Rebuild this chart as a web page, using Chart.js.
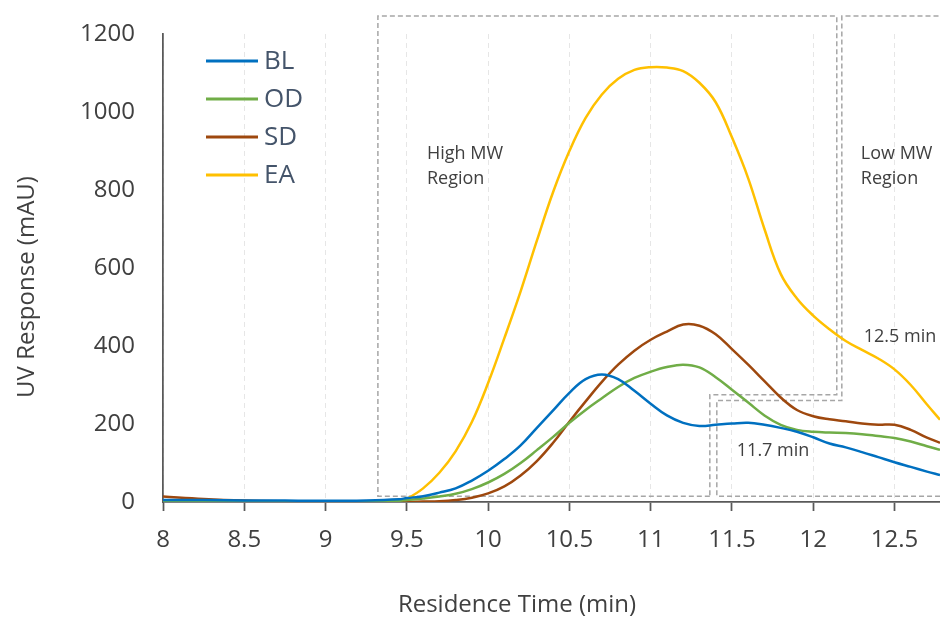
<!DOCTYPE html>
<html>
<head>
<meta charset="utf-8">
<script src="https://cdn.jsdelivr.net/npm/chart.js@4.4.1/dist/chart.umd.min.js"></script>
<style>
  html, body { margin: 0; padding: 0; background: #fff; }
  #wrap { width: 940px; height: 619px; }
</style>
</head>
<body>
<div id="wrap"><canvas id="chart" width="940" height="619"></canvas></div>
<script>
// residence time (min)
const timeMin = [8.0, 8.25, 8.5, 8.75, 9.0, 9.25, 9.45,
    9.5, 9.6, 9.7, 9.8, 9.9, 10.0, 10.1, 10.2, 10.3, 10.4,
    10.5, 10.6, 10.7, 10.8, 10.9, 11.0, 11.1, 11.2, 11.3, 11.4,
    11.5, 11.6, 11.7, 11.8, 11.9, 12.0, 12.1, 12.2, 12.3, 12.4,
    12.5, 12.6, 12.7, 12.78];

// UV response (mAU)
const blValues = [5, 5, 4, 4, 3, 4, 7,
    10, 15, 24, 35, 55, 80, 110, 145, 190, 235,
    280, 315, 327, 315, 285, 252, 222, 203, 195, 198,
    201, 203, 198, 190, 180, 166, 150, 140, 128, 115,
    102, 90, 78, 69];
const odValues = [1, 1, 1, 1, 1, 1, 3,
    5, 9, 14, 21, 33, 50, 72, 100, 133, 167,
    203, 236, 266, 295, 318, 334, 346, 352, 345, 320,
    288, 255, 222, 198, 185, 180, 178, 177, 174, 169,
    164, 155, 143, 134];
const sdValues = [14, 8, 4, 2, 1, 0, 0,
    0, 1, 2, 5, 11, 22, 40, 68, 105, 152,
    206, 258, 308, 352, 388, 416, 437, 455, 452, 430,
    392, 352, 310, 268, 236, 220, 212, 207, 201, 198,
    198, 185, 165, 152];
const eaValues = [null, null, null, null, null, null, 0,
    8, 35, 75, 130, 205, 305, 420, 540, 670, 795,
    900, 985, 1045, 1085, 1108, 1115, 1114, 1105, 1075, 1025,
    935, 830, 700, 585, 522, 478, 443, 413, 390, 368,
    340, 300, 250, 211];

const seriesNames = ['BL', 'OD', 'SD', 'EA'];
const seriesColors = ['#0070C0', '#70AD47', '#9E480E', '#FFC000'];
const seriesValues = [blValues, odValues, sdValues, eaValues];

const xTicks = [8, 8.5, 9, 9.5, 10, 10.5, 11, 11.5, 12, 12.5];
const yTicks = [0, 200, 400, 600, 800, 1000, 1200];

// dashed region outlines, in (min, mAU)
const highMwBox = [[11.364, 15], [9.322, 15], [9.322, 1246], [12.145, 1246], [12.145, 275], [11.364, 275], [11.364, 15]];
const lowMwBox = [[12.82, 1246], [12.176, 1246], [12.176, 260], [11.407, 260], [11.407, 15], [12.82, 15]];
const notes = [
    { lines: ['High MW', 'Region'], t: 9.624, v: 892 },
    { lines: ['Low MW', 'Region'], t: 12.293, v: 892 },
    { lines: ['12.5 min'], t: 12.311, v: 424 },
    { lines: ['11.7 min'], t: 11.53, v: 131 }
];

const FONT = '"Open Sans", "DejaVu Sans", sans-serif';
const TEXT = '#404040';
const AXIS = '#595959';

const datasets = seriesNames.map((name, i) => ({
    label: name,
    data: timeMin.map((t, j) => ({ x: t, y: seriesValues[i][j] })),
    borderColor: seriesColors[i],
    backgroundColor: seriesColors[i],
    borderWidth: 2.5,
    pointRadius: 0,
    tension: 0.4,
    fill: false
}));

const overlay = {
    id: 'overlay',
    beforeDatasetsDraw(chart) {
        const { ctx } = chart;
        const xs = chart.scales.x, ys = chart.scales.y;
        ctx.save();
        ctx.strokeStyle = '#a6a6a6';
        ctx.lineWidth = 1.5;
        ctx.setLineDash([5, 3]);
        [highMwBox, lowMwBox].forEach(path => {
            ctx.beginPath();
            path.forEach(([t, v], i) => {
                const px = xs.getPixelForValue(t), py = ys.getPixelForValue(v);
                if (i) ctx.lineTo(px, py); else ctx.moveTo(px, py);
            });
            ctx.stroke();
        });
        ctx.restore();
    },
    afterDatasetsDraw(chart) {
        const { ctx, chartArea } = chart;
        const xs = chart.scales.x, ys = chart.scales.y;
        ctx.save();
        // notes
        ctx.fillStyle = TEXT;
        ctx.font = '18px ' + FONT;
        ctx.textAlign = 'left';
        ctx.textBaseline = 'middle';
        notes.forEach(n => {
            const px = xs.getPixelForValue(n.t), py = ys.getPixelForValue(n.v);
            n.lines.forEach((s, k) => ctx.fillText(s, px, py + k * 25));
        });
        // legend
        ctx.font = '26px ' + FONT;
        chart.data.datasets.forEach((ds, i) => {
            const y = chartArea.top + 27 + i * 38;
            const x = chartArea.left + 43;
            ctx.strokeStyle = ds.borderColor;
            ctx.lineWidth = 3;
            ctx.beginPath();
            ctx.moveTo(x, y);
            ctx.lineTo(x + 52, y);
            ctx.stroke();
            ctx.fillStyle = '#44546A';
            ctx.fillText(ds.label, x + 58, y + 1);
        });
        // axis titles
        ctx.fillStyle = TEXT;
        ctx.font = '24px ' + FONT;
        ctx.textAlign = 'center';
        ctx.fillText('Residence Time (min)', 517, 605);
        ctx.translate(27, 287);
        ctx.rotate(-Math.PI / 2);
        ctx.fillText('UV Response (mAU)', 0, 0);
        ctx.restore();
    }
};

new Chart(document.getElementById('chart'), {
    type: 'line',
    data: { datasets },
    options: {
        responsive: false,
        animation: false,
        devicePixelRatio: 1,
        layout: { padding: { top: 34, right: 0, bottom: 0, left: 0 } },
        plugins: { legend: { display: false }, tooltip: { enabled: false } },
        scales: {
            x: {
                type: 'linear',
                min: 8,
                max: 12.78,
                afterFit(scale) { scale.height = 117; },
                afterBuildTicks(scale) { scale.ticks = xTicks.map(v => ({ value: v })); },
                ticks: {
                    includeBounds: false,
                    color: TEXT,
                    font: { family: FONT, size: 24 },
                    padding: 15,
                    maxRotation: 0,
                    callback: v => String(v)
                },
                grid: {
                    color: '#e6e6e6',
                    lineWidth: 1,
                    drawTicks: true,
                    tickLength: 9,
                    tickColor: AXIS,
                    tickWidth: 1.75
                },
                border: { display: true, color: AXIS, width: 1.75, dash: [5, 4] }
            },
            y: {
                min: 0,
                max: 1200,
                afterFit(scale) {
                    scale.width = 163;
                    scale.paddingTop = 10;
                    scale.paddingBottom = 10;
                },
                afterBuildTicks(scale) { scale.ticks = yTicks.map(v => ({ value: v })); },
                ticks: {
                    color: TEXT,
                    font: { family: FONT, size: 24 },
                    padding: 28,
                    callback: v => String(v)
                },
                grid: { display: false, drawTicks: false },
                border: { display: true, color: AXIS, width: 1.75 }
            }
        }
    },
    plugins: [overlay]
});
</script>
</body>
</html>
